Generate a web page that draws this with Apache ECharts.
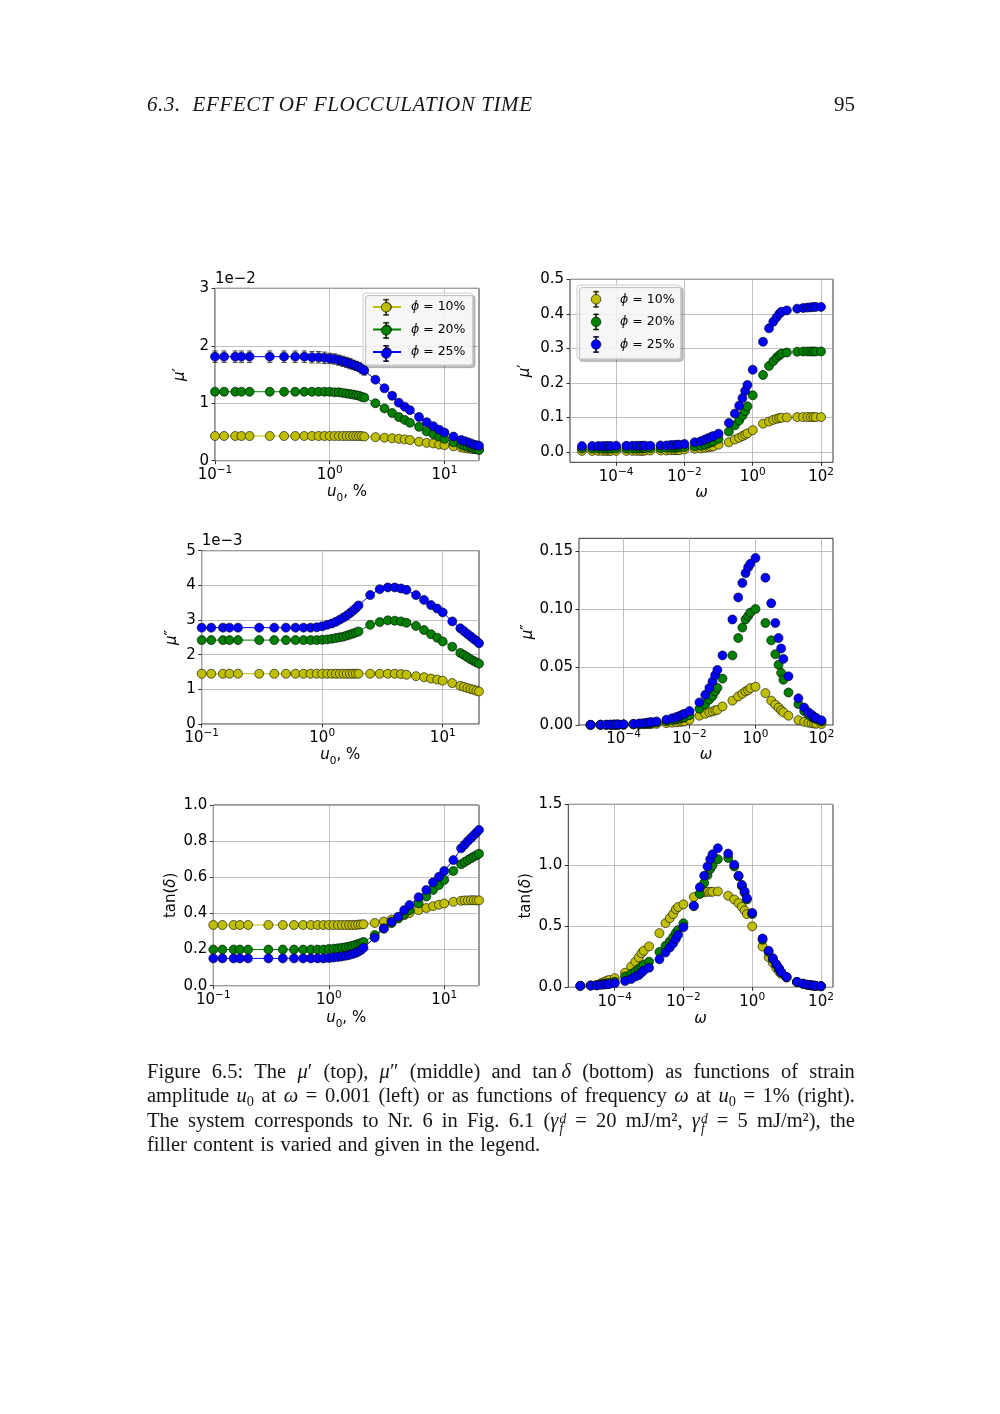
<!DOCTYPE html>
<html><head><meta charset="utf-8">
<script src="https://cdn.jsdelivr.net/npm/echarts@6/dist/echarts.min.js"></script>
<style>
html,body{margin:0;padding:0;background:#fff;}
#page{position:relative;width:1000px;height:1414px;overflow:hidden;background:#fff;}
#chart{position:absolute;left:0;top:0;width:1000px;height:1414px;}
.hdr{position:absolute;top:91px;font-family:'Liberation Serif','DejaVu Serif',serif;font-size:21px;line-height:26px;color:#151515;white-space:nowrap;}
#caption{position:absolute;left:147px;top:1059px;width:708px;font-family:'Liberation Serif','DejaVu Serif',serif;font-size:20.5px;line-height:24.3px;color:#151515;}
#caption .ln{display:flex;justify-content:space-between;white-space:nowrap;height:24.3px;}
#caption .last{display:flex;justify-content:flex-start;gap:6.5px;white-space:nowrap;height:24.3px;}
#caption sub{font-size:0.7em;line-height:0;vertical-align:-0.25em;}
#caption var{display:inline-block;vertical-align:-0.45em;line-height:0.72em;font-size:0.66em;font-style:italic;margin-left:1px;}
#caption var i{display:block;}
</style></head>
<body><div id="page">
<div id="chart"></div>
<div class="hdr" style="left:147px;font-style:italic;letter-spacing:0.6px;">6.3.&nbsp;&nbsp;EFFECT OF FLOCCULATION TIME</div>
<div class="hdr" style="right:145px;">95</div>
<div id="caption"></div>
</div>
<script>
// ---------------- data ----------------
const seriesNames = ['ϕ = 10%', 'ϕ = 20%', 'ϕ = 25%'];
const colors = ['#bfbf00', '#008000', '#0000ff'];

// strain amplitude u0 (%) at omega = 0.001
const u0 = [0.1,0.12,0.15,0.17,0.2,0.3,0.4,0.5,0.6,0.7,0.8,0.9,
  1.0,1.1,1.2,1.3,1.4,1.5,1.6,1.7,1.8,1.9,2.0,
  2.5,3,3.5,4,4.5,5,6,7,8,9,10,
  12,14,15,16,17,18,19,20];

const muP_u_10 = [0.0043,0.0043,0.0043,0.0043,0.0043,0.0043,0.0043,0.0043,0.0043,0.0043,0.0043,0.0043,
  0.0043,0.0043,0.0043,0.0043,0.0043,0.0043,0.0043,0.0043,0.0043,0.0043,0.0042,
  0.0041,0.0040,0.0039,0.0038,0.0037,0.0036,0.0033,0.0031,0.0030,0.0028,0.0027,
  0.0025,0.0023,0.0022,0.0021,0.0021,0.0020,0.0020,0.0019];
const muP_u_20 = [0.0120,0.0120,0.0120,0.0120,0.0120,0.0120,0.0120,0.0120,0.0120,0.0120,0.0120,0.0120,
  0.0120,0.0119,0.0119,0.0118,0.0117,0.0116,0.0115,0.0114,0.0113,0.0111,0.0110,
  0.0100,0.0091,0.0083,0.0076,0.0071,0.0066,0.0059,0.0051,0.0046,0.0042,0.0038,
  0.0032,0.0028,0.0026,0.0024,0.0023,0.0021,0.0020,0.0019];
const muP_u_25 = [0.0181,0.0181,0.0181,0.0181,0.0181,0.0181,0.0181,0.0181,0.0181,0.0180,0.0180,0.0179,
  0.0178,0.0177,0.0175,0.0173,0.0171,0.0169,0.0167,0.0165,0.0163,0.0160,0.0157,
  0.0141,0.0126,0.0113,0.0101,0.0094,0.0088,0.0076,0.0067,0.0060,0.0054,0.0049,
  0.0042,0.0036,0.0034,0.0032,0.0030,0.0028,0.0027,0.0026];
const muPErr_u_25 = [0.0010,0.0010,0.0010,0.0010,0.0010,0.0010,0.0010,0.0010,0.0010,0.0010,0.0010,0.0010,
  0.0009,0.0009,0.0009,0.0009,0.0009,0.0009,0.0008,0.0008,0.0008,0.0008,0.0008,
  0.0005,0.0005,0.0005,0.0005,0.0005,0.0005,0.0005,0.0005,0.0005,0.0005,0.0005,
  0.0004,0.0004,0.0004,0.0004,0.0004,0.0004,0.0004,0.0004];

const muPP_u_10 = [0.00145,0.00145,0.00145,0.00145,0.00145,0.00145,0.00145,0.00145,0.00145,0.00145,0.00145,0.00145,
  0.00145,0.00145,0.00145,0.00145,0.00145,0.00145,0.00145,0.00145,0.00145,0.00145,0.00145,
  0.00145,0.00145,0.00145,0.00145,0.00144,0.00142,0.00138,0.00135,0.00131,0.00128,0.00125,
  0.00118,0.00110,0.00107,0.00104,0.00101,0.00099,0.00096,0.00094];
const muPP_u_20 = [0.00242,0.00242,0.00242,0.00242,0.00242,0.00242,0.00242,0.00242,0.00242,0.00242,0.00242,0.00242,
  0.00243,0.00244,0.00246,0.00248,0.00250,0.00252,0.00255,0.00258,0.00261,0.00264,0.00267,
  0.00286,0.00294,0.00299,0.00298,0.00296,0.00292,0.00283,0.00271,0.00259,0.00249,0.00238,
  0.00223,0.00205,0.00199,0.00193,0.00187,0.00182,0.00178,0.00174];
const muPP_u_25 = [0.00278,0.00278,0.00278,0.00278,0.00278,0.00278,0.00278,0.00278,0.00278,0.00278,0.00278,0.00279,
  0.00282,0.00286,0.00290,0.00295,0.00301,0.00307,0.00313,0.00320,0.00327,0.00334,0.00342,
  0.00372,0.00389,0.00394,0.00394,0.00391,0.00387,0.00372,0.00358,0.00343,0.00333,0.00322,
  0.00296,0.00276,0.00268,0.00260,0.00253,0.00246,0.00240,0.00233];

const tanD_u_10 = [0.336,0.336,0.336,0.336,0.336,0.336,0.336,0.336,0.336,0.336,0.336,0.336,
  0.336,0.336,0.336,0.336,0.336,0.336,0.336,0.336,0.338,0.339,0.340,
  0.347,0.355,0.366,0.378,0.390,0.402,0.418,0.430,0.440,0.448,0.455,
  0.464,0.470,0.472,0.472,0.473,0.473,0.472,0.472];
const tanD_u_20 = [0.200,0.200,0.200,0.200,0.200,0.200,0.200,0.200,0.200,0.200,0.200,0.200,
  0.203,0.205,0.207,0.210,0.213,0.217,0.221,0.226,0.231,0.236,0.242,
  0.280,0.316,0.346,0.372,0.395,0.418,0.456,0.493,0.530,0.557,0.585,
  0.635,0.672,0.684,0.695,0.705,0.714,0.722,0.730];
const tanD_u_25 = [0.151,0.151,0.151,0.151,0.151,0.151,0.151,0.151,0.151,0.151,0.151,0.151,
  0.153,0.156,0.159,0.162,0.166,0.170,0.175,0.181,0.188,0.197,0.210,
  0.266,0.317,0.354,0.382,0.418,0.446,0.490,0.530,0.572,0.603,0.635,
  0.695,0.760,0.780,0.800,0.816,0.832,0.847,0.862];

// frequency omega at u0 = 1%
const omega = [1e-5,2e-5,3e-5,4e-5,5e-5,6e-5,7e-5,
  1e-4,2e-4,3e-4,4e-4,5e-4,6e-4,7e-4,
  1e-3,2e-3,3e-3,4e-3,5e-3,6e-3,7e-3,
  1e-2,2e-2,3e-2,4e-2,5e-2,6e-2,7e-2,
  0.1,0.2,0.3,0.4,0.5,0.6,0.7,
  1,2,3,4,5,6,7,
  10,20,30,40,50,60,70,
  100];

const muP_w_10 = [0.003,0.003,0.003,0.003,0.003,0.003,0.003, 0.003,0.003,0.003,0.003,0.003,0.003,0.004,
  0.004,0.004,0.004,0.005,0.005,0.005,0.005, 0.007,0.009,0.010,0.012,0.014,0.015,0.016,
  0.021,0.028,0.036,0.041,0.046,0.050,0.054, 0.063,0.082,0.088,0.093,0.096,0.098,0.099,
  0.100,0.101,0.101,0.101,0.101,0.101,0.101, 0.101];
const muP_w_20 = [0.010,0.010,0.010,0.010,0.010,0.010,0.010, 0.010,0.010,0.010,0.010,0.011,0.011,0.011,
  0.011,0.011,0.012,0.012,0.012,0.013,0.013, 0.014,0.016,0.018,0.021,0.025,0.028,0.031,
  0.038,0.059,0.077,0.091,0.105,0.118,0.132, 0.164,0.223,0.249,0.263,0.273,0.280,0.285,
  0.288,0.290,0.291,0.291,0.291,0.291,0.291, 0.291];
const muP_w_25 = [0.017,0.017,0.017,0.017,0.017,0.017,0.017, 0.018,0.018,0.018,0.018,0.018,0.018,0.018,
  0.018,0.019,0.019,0.020,0.020,0.021,0.021, 0.023,0.028,0.031,0.036,0.040,0.043,0.046,
  0.053,0.084,0.111,0.134,0.156,0.177,0.194, 0.238,0.319,0.358,0.377,0.390,0.400,0.406,
  0.410,0.415,0.417,0.418,0.419,0.420,0.420, 0.420];

const muPP_w_10 = [0.00004,0.00006,0.00008,0.0001,0.0001,0.00012,0.00013, 0.0002,0.0004,0.0005,0.0006,0.0007,0.0008,0.0008,
  0.0010,0.0016,0.0020,0.0023,0.0026,0.0029,0.0032, 0.0045,0.0080,0.0097,0.0110,0.0117,0.0126,0.0130,
  0.0160,0.0210,0.0246,0.0270,0.0290,0.0300,0.0318, 0.0330,0.0275,0.0210,0.0175,0.0150,0.0127,0.0110,
  0.0080,0.0042,0.0028,0.0020,0.0016,0.0013,0.0011, 0.0008];
const muPP_w_20 = [0.0001,0.0002,0.0002,0.0002,0.0003,0.0003,0.0003, 0.0004,0.0007,0.0009,0.0011,0.0013,0.0015,0.0017,
  0.0022,0.0034,0.0042,0.0049,0.0055,0.0061,0.0066, 0.0085,0.0140,0.0180,0.0220,0.0250,0.0290,0.0320,
  0.0400,0.0600,0.0750,0.0840,0.0910,0.0940,0.0970, 0.1000,0.0880,0.0730,0.0610,0.0520,0.0450,0.0390,
  0.0280,0.0180,0.0120,0.0090,0.0070,0.0060,0.0050, 0.0030];
const muPP_w_25 = [0.0002,0.0003,0.0003,0.0004,0.0004,0.0005,0.0005, 0.0006,0.0010,0.0013,0.0016,0.0019,0.0022,0.0025,
  0.0030,0.0046,0.0058,0.0068,0.0078,0.0088,0.0096, 0.0120,0.0195,0.0260,0.0320,0.0375,0.0430,0.0475,
  0.0600,0.0910,0.1100,0.1225,0.1310,0.1360,0.1390, 0.1440,0.1270,0.1050,0.0880,0.0750,0.0660,0.0570,
  0.0420,0.0230,0.0150,0.0110,0.0090,0.0070,0.0060, 0.0040];

const tanD_w_10 = [0.012,0.015,0.020,0.035,0.045,0.055,0.060, 0.075,0.120,0.170,0.210,0.245,0.280,0.300,
  0.335,0.444,0.526,0.567,0.600,0.640,0.658, 0.680,0.740,0.767,0.778,0.783,0.783,0.783,
  0.786,0.750,0.720,0.690,0.660,0.630,0.600, 0.500,0.334,0.247,0.200,0.160,0.130,0.110,
  0.080,0.042,0.028,0.020,0.016,0.013,0.011, 0.008];
const tanD_w_20 = [0.012,0.015,0.017,0.025,0.028,0.032,0.035, 0.045,0.088,0.110,0.130,0.150,0.170,0.185,
  0.210,0.290,0.340,0.375,0.410,0.445,0.470, 0.525,0.665,0.767,0.855,0.920,0.970,1.000,
  1.050,1.060,0.990,0.910,0.830,0.775,0.720, 0.600,0.390,0.290,0.230,0.185,0.150,0.120,
  0.083,0.044,0.029,0.021,0.017,0.014,0.012, 0.009];
const tanD_w_25 = [0.012,0.014,0.015,0.020,0.022,0.025,0.027, 0.033,0.052,0.068,0.088,0.100,0.120,0.137,
  0.160,0.230,0.285,0.326,0.360,0.397,0.430, 0.493,0.668,0.820,0.915,0.990,1.050,1.090,
  1.140,1.096,1.005,0.915,0.840,0.786,0.730, 0.610,0.400,0.300,0.238,0.190,0.156,0.123,
  0.085,0.045,0.030,0.022,0.018,0.015,0.013, 0.010];

// tick values
const uTicks = [0.1, 1, 10];
const wTicks = [1e-4, 1e-2, 1, 1e2];
const yTicks = [
  [0, 0.01, 0.02, 0.03],
  [0, 0.1, 0.2, 0.3, 0.4, 0.5],
  [0, 0.001, 0.002, 0.003, 0.004, 0.005],
  [0, 0.05, 0.10, 0.15],
  [0, 0.2, 0.4, 0.6, 0.8, 1.0],
  [0, 0.5, 1.0, 1.5]
];

// ---------------- layout ----------------
const FONT = 'DejaVu Sans';
const FS = 15;
const SYM = 9;
const grids = [
  {left: 215,   top: 288.3, width: 264,   height: 172.4},
  {left: 570,   top: 279.3, width: 263,   height: 183},
  {left: 201.7, top: 550.7, width: 277.3, height: 173.3},
  {left: 579,   top: 538.3, width: 254,   height: 186.7},
  {left: 213.3, top: 805,   width: 265.7, height: 180.7},
  {left: 568.3, top: 804.3, width: 264.7, height: 183}
];
const yRange = [[0, 0.03], [-0.03, 0.5], [0, 0.005], [0, 0.161], [0, 1.0], [0, 1.5]];
const yFmt = [
  v => String(Math.round(v * 100)),
  v => v.toFixed(1),
  v => String(Math.round(v * 1000)),
  v => v.toFixed(2),
  v => v.toFixed(1),
  v => v.toFixed(1)
];
const yNames = ['{i|μ}′', '{i|μ}′', '{i|μ}″', '{i|μ}″', 'tan({i|δ})', 'tan({i|δ})'];
const yNameGap = [27, 37, 22, 43, 35, 35];
const xNameGap = [24, 23, 24, 23, 25, 24];

const richBase = {
  i: {fontStyle: 'italic', fontFamily: FONT, fontSize: FS, color: '#000'},
  sub: {fontFamily: FONT, fontSize: 10.5, color: '#000', verticalAlign: 'bottom', lineHeight: 12, padding: [0, 0, -4, 0]}
};

function supLabel(v) {
  const e = Math.round(Math.log10(v));
  return '{b|10}{sup|' + (e < 0 ? '−' + (-e) : String(e)) + '}';
}

const xAxes = grids.map((g, gi) => {
  const left = gi % 2 === 0;
  return {
    type: 'log', logBase: 10, gridIndex: gi,
    min: left ? 0.1 : Math.pow(10, -5.35),
    max: left ? 20 : Math.pow(10, 2.35),
    name: left ? '{i|u}{sub|0}, %' : '{i|ω}',
    nameLocation: 'middle', nameGap: xNameGap[gi], nameMoveOverlap: false,
    nameTextStyle: {fontFamily: FONT, fontSize: FS, color: '#000', rich: richBase},
    axisLine: {show: false, onZero: false},
    axisTick: {show: true, length: 3.5, inside: false, customValues: left ? uTicks : wTicks,
      lineStyle: {color: '#000', width: 0.8}},
    axisLabel: {show: true, margin: 4, customValues: left ? uTicks : wTicks,
      formatter: supLabel, fontFamily: FONT, fontSize: FS, color: '#000',
      rich: {
        b: {fontFamily: FONT, fontSize: FS, color: '#000', verticalAlign: 'bottom', lineHeight: 18},
        sup: {fontFamily: FONT, fontSize: 10.5, color: '#000', verticalAlign: 'top', lineHeight: 10}
      }},
    splitLine: {show: true, lineStyle: {color: '#b0b0b0', width: 0.8}},
    minorTick: {show: false}
  };
});

const yAxes = grids.map((g, gi) => ({
  type: 'value', gridIndex: gi,
  min: yRange[gi][0], max: yRange[gi][1],
  name: yNames[gi], nameLocation: 'middle', nameRotate: 90, nameGap: yNameGap[gi], nameMoveOverlap: false,
  nameTextStyle: {fontFamily: FONT, fontSize: FS, color: '#000', rich: richBase},
  axisLine: {show: false, onZero: false},
  axisTick: {show: true, length: 3.5, inside: false, customValues: yTicks[gi],
    lineStyle: {color: '#000', width: 0.8}},
  axisLabel: {show: true, margin: 6, customValues: yTicks[gi], formatter: yFmt[gi],
    fontFamily: FONT, fontSize: FS, color: '#000'},
  splitLine: {show: true, lineStyle: {color: '#b0b0b0', width: 0.8}}
}));

const gridCfg = grids.map(g => Object.assign({show: true, borderColor: '#000', borderWidth: 0.8,
  backgroundColor: 'transparent', containLabel: false}, g));

// ---------------- series ----------------
const series = [];
function addLine(gi, xs, ys) {
  ys.forEach((arr, k) => series.push({
    type: 'line', name: seriesNames[k], xAxisIndex: gi, yAxisIndex: gi,
    data: xs.map((x, i) => [x, arr[i]]),
    symbol: 'circle', symbolSize: SYM, showSymbol: true, showAllSymbol: true,
    itemStyle: {color: colors[k], borderColor: '#000', borderWidth: 0.6},
    lineStyle: {color: colors[k], width: 1},
    emphasis: {disabled: true}, animation: false, z: 3
  }));
}
function addScatter(gi, xs, ys) {
  ys.forEach((arr, k) => series.push({
    type: 'scatter', name: seriesNames[k], xAxisIndex: gi, yAxisIndex: gi,
    data: xs.map((x, i) => [x, arr[i]]),
    symbol: 'circle', symbolSize: SYM,
    itemStyle: {color: colors[k], borderColor: '#000', borderWidth: 0.6, opacity: 1},
    emphasis: {disabled: true}, animation: false, z: 3
  }));
}
addLine(0, u0, [muP_u_10, muP_u_20, muP_u_25]);
// error bars of phi = 25% in the top-left panel
series.push({
  type: 'custom', name: 'errorbars', xAxisIndex: 0, yAxisIndex: 0, z: 2, animation: false,
  data: u0.map((x, i) => [x, muP_u_25[i], muPErr_u_25[i]]),
  encode: {x: 0, y: 1},
  renderItem: function (params, api) {
    const x = api.value(0), y = api.value(1), e = api.value(2);
    const t = api.coord([x, y + e]), b = api.coord([x, y - e]);
    const w = 2.6, st = {stroke: '#222', lineWidth: 0.8};
    return {type: 'group', children: [
      {type: 'line', shape: {x1: t[0], y1: t[1], x2: b[0], y2: b[1]}, style: st},
      {type: 'line', shape: {x1: t[0] - w, y1: t[1], x2: t[0] + w, y2: t[1]}, style: st},
      {type: 'line', shape: {x1: b[0] - w, y1: b[1], x2: b[0] + w, y2: b[1]}, style: st}
    ]};
  }
});
addScatter(1, omega, [muP_w_10, muP_w_20, muP_w_25]);
addLine(2, u0, [muPP_u_10, muPP_u_20, muPP_u_25]);
addScatter(3, omega, [muPP_w_10, muPP_w_20, muPP_w_25]);
addLine(4, u0, [tanD_u_10, tanD_u_20, tanD_u_25]);
addScatter(5, omega, [tanD_w_10, tanD_w_20, tanD_w_25]);

// ---------------- legends ----------------
const errIcon = 'path://M0.5,8A4.5,4.5 0 1 1 9.5,8A4.5,4.5 0 1 1 0.5,8Z' +
  'M4.6,0.5H5.4V3.6H4.6Z M4.6,12.4H5.4V15.5H4.6Z M2.6,0.5H7.4V1.3H2.6Z M2.6,14.7H7.4V15.5H2.6Z';
const legendText = {
  fontFamily: FONT, fontSize: 12.5, color: '#000', lineHeight: 14,
  rich: {i: {fontFamily: FONT, fontSize: 12.5, fontStyle: 'italic', color: '#000'}}
};
const legendBox = {
  orient: 'vertical', selectedMode: false,
  backgroundColor: 'rgba(255,255,255,0.85)', borderColor: '#cccccc', borderWidth: 1, borderRadius: 3,
  shadowColor: 'rgba(0,0,0,0.28)', shadowOffsetX: 2.5, shadowOffsetY: 2.5, shadowBlur: 1,
  formatter: n => n.replace('ϕ', '{i|ϕ}')
};
const legends = [
  // panel 1: line + marker handles
  Object.assign({}, legendBox, {
    left: 363, top: 293, itemWidth: 28, itemHeight: 11, itemGap: 8.5, padding: [7, 7, 6, 9],
    data: seriesNames.slice(),
    itemStyle: {borderColor: '#000', borderWidth: 0.6},
    textStyle: Object.assign({}, legendText, {padding: [0, 0, 0, 5]})
  }),
  // panel 1: error-bar part of the same handles, drawn on top of the markers
  {
    orient: 'vertical', selectedMode: false, left: 381, top: 299, padding: 0,
    itemWidth: 10, itemHeight: 16, itemGap: 6.5,
    data: seriesNames.map(n => ({name: n, icon: errIcon})),
    itemStyle: {borderColor: '#000', borderWidth: 0.6},
    formatter: () => '', textStyle: {fontSize: 1, lineHeight: 1},
    backgroundColor: 'transparent', borderWidth: 0, z: 5
  },
  // panel 2: marker + error-bar handles
  Object.assign({}, legendBox, {
    left: 577, top: 285, itemWidth: 10, itemHeight: 16, itemGap: 6, padding: [6, 6, 6, 14],
    data: seriesNames.map(n => ({name: n, icon: errIcon})),
    itemStyle: {borderColor: '#000', borderWidth: 0.6},
    textStyle: Object.assign({}, legendText, {padding: [0, 0, 0, 14]})
  })
];

// ---------------- offset texts ----------------
const graphics = [
  {type: 'text', x: grids[0].left, y: grids[0].top - 2,
    style: {text: '1e−2', fontFamily: FONT, fontSize: FS, fill: '#000', verticalAlign: 'bottom', align: 'left'}},
  {type: 'text', x: grids[2].left, y: grids[2].top - 2,
    style: {text: '1e−3', fontFamily: FONT, fontSize: FS, fill: '#000', verticalAlign: 'bottom', align: 'left'}}
];

const chart = echarts.init(document.getElementById('chart'), null, {renderer: 'canvas'});
chart.setOption({
  backgroundColor: '#ffffff',
  animation: false,
  textStyle: {fontFamily: FONT},
  grid: gridCfg,
  xAxis: xAxes,
  yAxis: yAxes,
  legend: legends,
  graphic: graphics,
  series: series
});

// ---------------- caption ----------------
const captionLines = [
  'Figure 6.5: The <i>μ</i>′ (top), <i>μ</i>″ (middle) and tan&#8239;<i>δ</i> (bottom) as functions of strain',
  'amplitude <i>u</i><sub>0</sub> at <i>ω</i> = 0.001 (left) or as functions of frequency <i>ω</i> at <i>u</i><sub>0</sub> = 1% (right).',
  'The system corresponds to Nr. 6 in Fig. 6.1 (<i>γ</i><var><i>d</i><i>f</i></var> = 20 mJ/m², <i>γ</i><var><i>d</i><i>f</i></var> = 5 mJ/m²), the',
  'filler content is varied and given in the legend.'
];
const cap = document.getElementById('caption');
cap.innerHTML = captionLines.map((l, i) => {
  const words = l.split(' ').map(w => '<span>' + w + '</span>').join('');
  return '<div class="' + (i === captionLines.length - 1 ? 'last' : 'ln') + '">' + words + '</div>';
}).join('');
</script>
</body></html>
